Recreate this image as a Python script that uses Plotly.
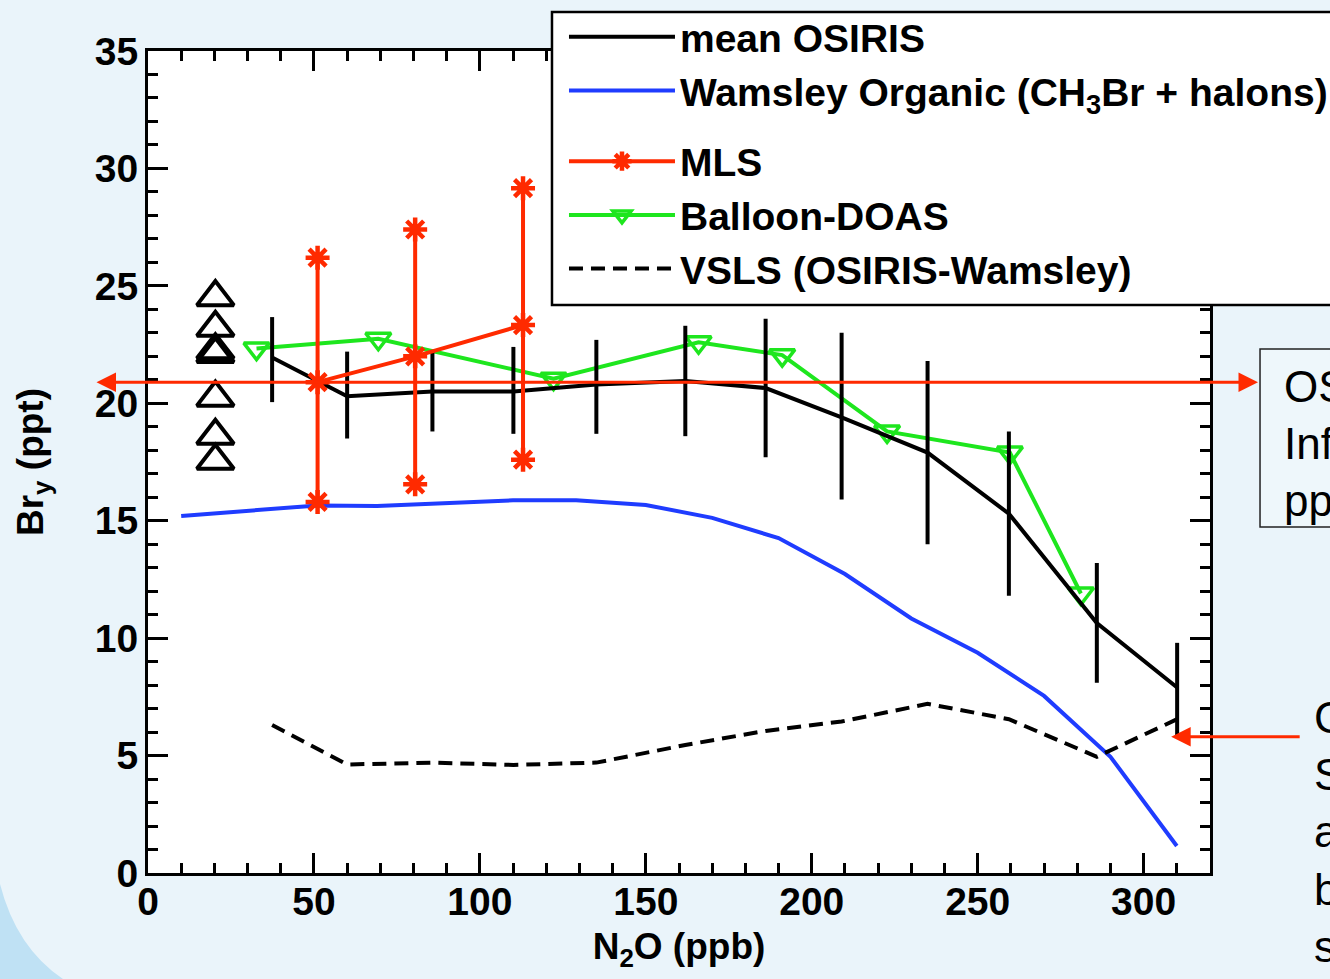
import plotly.graph_objects as go

# ---------------- data ----------------
osiris_x = [37.4, 60.0, 85.7, 110.1, 135.1, 161.9, 186.1, 209.0, 234.9, 259.4, 285.9, 310.1]
osiris_y = [21.95, 20.3, 20.5, 20.5, 20.8, 20.95, 20.65, 19.4, 17.9, 15.3, 10.64, 7.9]
osiris_hi = [23.67, 22.2, 22.2, 22.4, 22.7, 23.3, 23.6, 23.0, 21.8, 18.8, 13.2, 9.8]
osiris_lo = [20.05, 18.5, 18.8, 18.7, 18.7, 18.6, 17.7, 15.9, 14.0, 11.8, 8.1, 5.8]

wamsley_x = [10, 51, 69, 110, 129, 150, 170, 190, 210, 230, 250, 270, 290, 310]
wamsley_y = [15.2, 15.65, 15.63, 15.87, 15.87, 15.67, 15.12, 14.26, 12.73, 10.84, 9.38, 7.54, 4.95, 1.15]

mls_x = [51.1, 80.5, 113.0]
mls_y = [20.9, 22.0, 23.33]
mls_hi = [26.2, 27.4, 29.16]
mls_lo = [15.8, 16.55, 17.6]

doas_x = [32.7, 69.4, 122.2, 165.9, 191.1, 222.7, 259.7, 281.1]
doas_y = [22.33, 22.75, 21.05, 22.6, 22.05, 18.8, 17.9, 11.9]

vsls_x = [37.4, 60.0, 85.7, 110.1, 135.1, 161.9, 186.1, 209.0, 234.9, 259.4, 285.9, 310.1]
vsls_y = [6.3, 4.62, 4.7, 4.6, 4.7, 5.45, 6.05, 6.45, 7.2, 6.55, 4.95, 6.55]

tri_x = [20.3, 20.3, 20.3, 20.3, 20.3, 20.3, 20.3]
tri_y = [24.52, 23.22, 22.26, 22.1, 20.24, 18.62, 17.55]

osiris_level = 20.9       # horizontal double arrow level
vsls_arrow_y = 5.8        # lower arrow level
vsls_arrow_x = 308.3

x_ticks = [0, 50, 100, 150, 200, 250, 300]
y_ticks = [0, 5, 10, 15, 20, 25, 30, 35]

# ---------------- styling ----------------
BLACK = "#000000"
BLUE = "#1f3cff"
RED = "#ff2a00"
GREEN = "#1ee61e"
FONT = "Liberation Sans"

fig = go.Figure()

fig.add_trace(go.Scatter(
    x=wamsley_x, y=wamsley_y, mode="lines",
    line=dict(color=BLUE, width=4), legendgroup="a",
    name="Wamsley Organic (CH<sub>3</sub>Br + halons)", legendrank=2))

fig.add_trace(go.Scatter(
    x=vsls_x, y=vsls_y, mode="lines",
    line=dict(color=BLACK, width=4, dash="14px,8px"), legendgroup="b",
    name="VSLS (OSIRIS-Wamsley)", legendrank=5))

fig.add_trace(go.Scatter(
    x=doas_x, y=doas_y, mode="lines+markers", legendgroup="b",
    line=dict(color=GREEN, width=4),
    marker=dict(symbol="triangle-down-open", size=22, color=GREEN,
                line=dict(color=GREEN, width=3.5)),
    name="Balloon-DOAS", legendrank=4))

fig.add_trace(go.Scatter(
    x=osiris_x, y=osiris_y, mode="lines", legendgroup="a",
    line=dict(color=BLACK, width=4),
    error_y=dict(type="data", symmetric=False,
                 array=[h - v for h, v in zip(osiris_hi, osiris_y)],
                 arrayminus=[v - l for v, l in zip(osiris_y, osiris_lo)],
                 color=BLACK, thickness=4, width=0),
    name="mean OSIRIS", legendrank=1))

fig.add_trace(go.Scatter(
    x=mls_x, y=mls_y, mode="lines+markers", legendgroup="b",
    line=dict(color=RED, width=4),
    marker=dict(symbol="asterisk-open", size=20, color=RED,
                line=dict(color=RED, width=4.5)),
    error_y=dict(type="data", symmetric=False,
                 array=[h - v for h, v in zip(mls_hi, mls_y)],
                 arrayminus=[v - l for v, l in zip(mls_y, mls_lo)],
                 color=RED, thickness=4, width=0),
    name="MLS", legendrank=3))

fig.add_trace(go.Scatter(
    x=mls_x + mls_x, y=mls_hi + mls_lo, mode="markers",
    marker=dict(symbol="asterisk-open", size=20, color=RED,
                line=dict(color=RED, width=4.5)),
    showlegend=False, hoverinfo="skip"))

fig.add_trace(go.Scatter(
    x=tri_x, y=tri_y, mode="markers",
    marker=dict(symbol="triangle-up-open", size=32, color=BLACK,
                line=dict(color=BLACK, width=4)),
    showlegend=False, cliponaxis=False))

axis_common = dict(
    showline=True, linecolor=BLACK, linewidth=3, mirror="allticks",
    ticks="inside", ticklen=20, tickwidth=3, tickcolor=BLACK,
    showgrid=False, zeroline=False, automargin=False,
    tickfont=dict(family=FONT, size=39, color=BLACK, weight="bold"),
)

fig.update_xaxes(
    range=[0, 320], tickvals=x_ticks, ticklabelstandoff=-8,
    minor=dict(dtick=10, tick0=0, ticks="inside", ticklen=10, tickwidth=2.5, tickcolor=BLACK),
    title=dict(text="N<sub>2</sub>O (ppb)", standoff=12,
               font=dict(family=FONT, size=37, color=BLACK, weight="bold")),
    **axis_common)

fig.update_yaxes(
    range=[0, 35], tickvals=y_ticks, ticklabelstandoff=-1,
    minor=dict(dtick=1, tick0=0, ticks="inside", ticklen=10, tickwidth=2.5, tickcolor=BLACK),
    title=dict(text="Br<sub>y</sub> (ppt)", standoff=40,
               font=dict(family=FONT, size=37, color=BLACK, weight="bold")),
    **axis_common)

shapes = [
    # slide-like backdrop swoosh
    dict(type="path", xref="paper", yref="paper", layer="below",
         path="M -0.14,-0.01 Q -0.125,-0.09 -0.08,-0.129 L -0.14,-0.129 Z",
         fillcolor="#bfe1f4", line=dict(width=0)),
    # legend frame (extends past the right edge as in the reference)
    dict(type="rect", xref="paper", yref="paper", layer="above",
         x0=0.3804, x1=1.127, y0=0.691, y1=1.0474,
         fillcolor="#ffffff", line=dict(color=BLACK, width=2.5)),
    # right text box
    dict(type="rect", xref="paper", yref="paper",
         x0=1.0471, x1=1.13, y0=0.4209, y1=0.6375,
         fillcolor="#eef7fb", line=dict(color="#222222", width=1.5)),
]

annotations = [
    # double-headed horizontal arrow
    dict(xref="paper", yref="y", x=1.0452, y=osiris_level, text="",
         showarrow=True, ax=-1163, ay=0, arrowside="end+start",
         arrowhead=2, arrowsize=1.3, arrowwidth=3, arrowcolor=RED),
    # lower arrow pointing at VSLS end
    dict(xref="x", yref="y", x=vsls_arrow_x, y=vsls_arrow_y, text="",
         showarrow=True, ax=130, ay=0,
         arrowhead=2, arrowsize=1.3, arrowwidth=3, arrowcolor=RED),
    dict(xref="paper", yref="paper", x=1.0678, y=0.523, xanchor="left", yanchor="middle",
         text="OS<br>Inf<br>pp", showarrow=False, align="left",
         font=dict(family=FONT, size=44, color=BLACK)),
    dict(xref="paper", yref="paper", x=1.0960, y=0.05, xanchor="left", yanchor="middle",
         text="C<br>S<br>a<br>b<br>s", showarrow=False, align="left",
         font=dict(family=FONT, size=44, color=BLACK)),
]

fig.update_layout(
    width=1330, height=979,
    margin=dict(l=148, r=120, t=51, b=106, autoexpand=False),
    paper_bgcolor="#eaf4fa", plot_bgcolor="#ffffff",
    font=dict(family=FONT, color=BLACK),
    shapes=shapes, annotations=annotations,
    showlegend=True,
    legend=dict(x=0.3917, y=1.056, xanchor="left", yanchor="top",
                bgcolor="rgba(0,0,0,0)", borderwidth=0,
                itemwidth=106, traceorder="grouped", tracegroupgap=17,
                font=dict(family=FONT, size=39, color=BLACK, weight="bold")),
)

fig.write_html("out.html")
